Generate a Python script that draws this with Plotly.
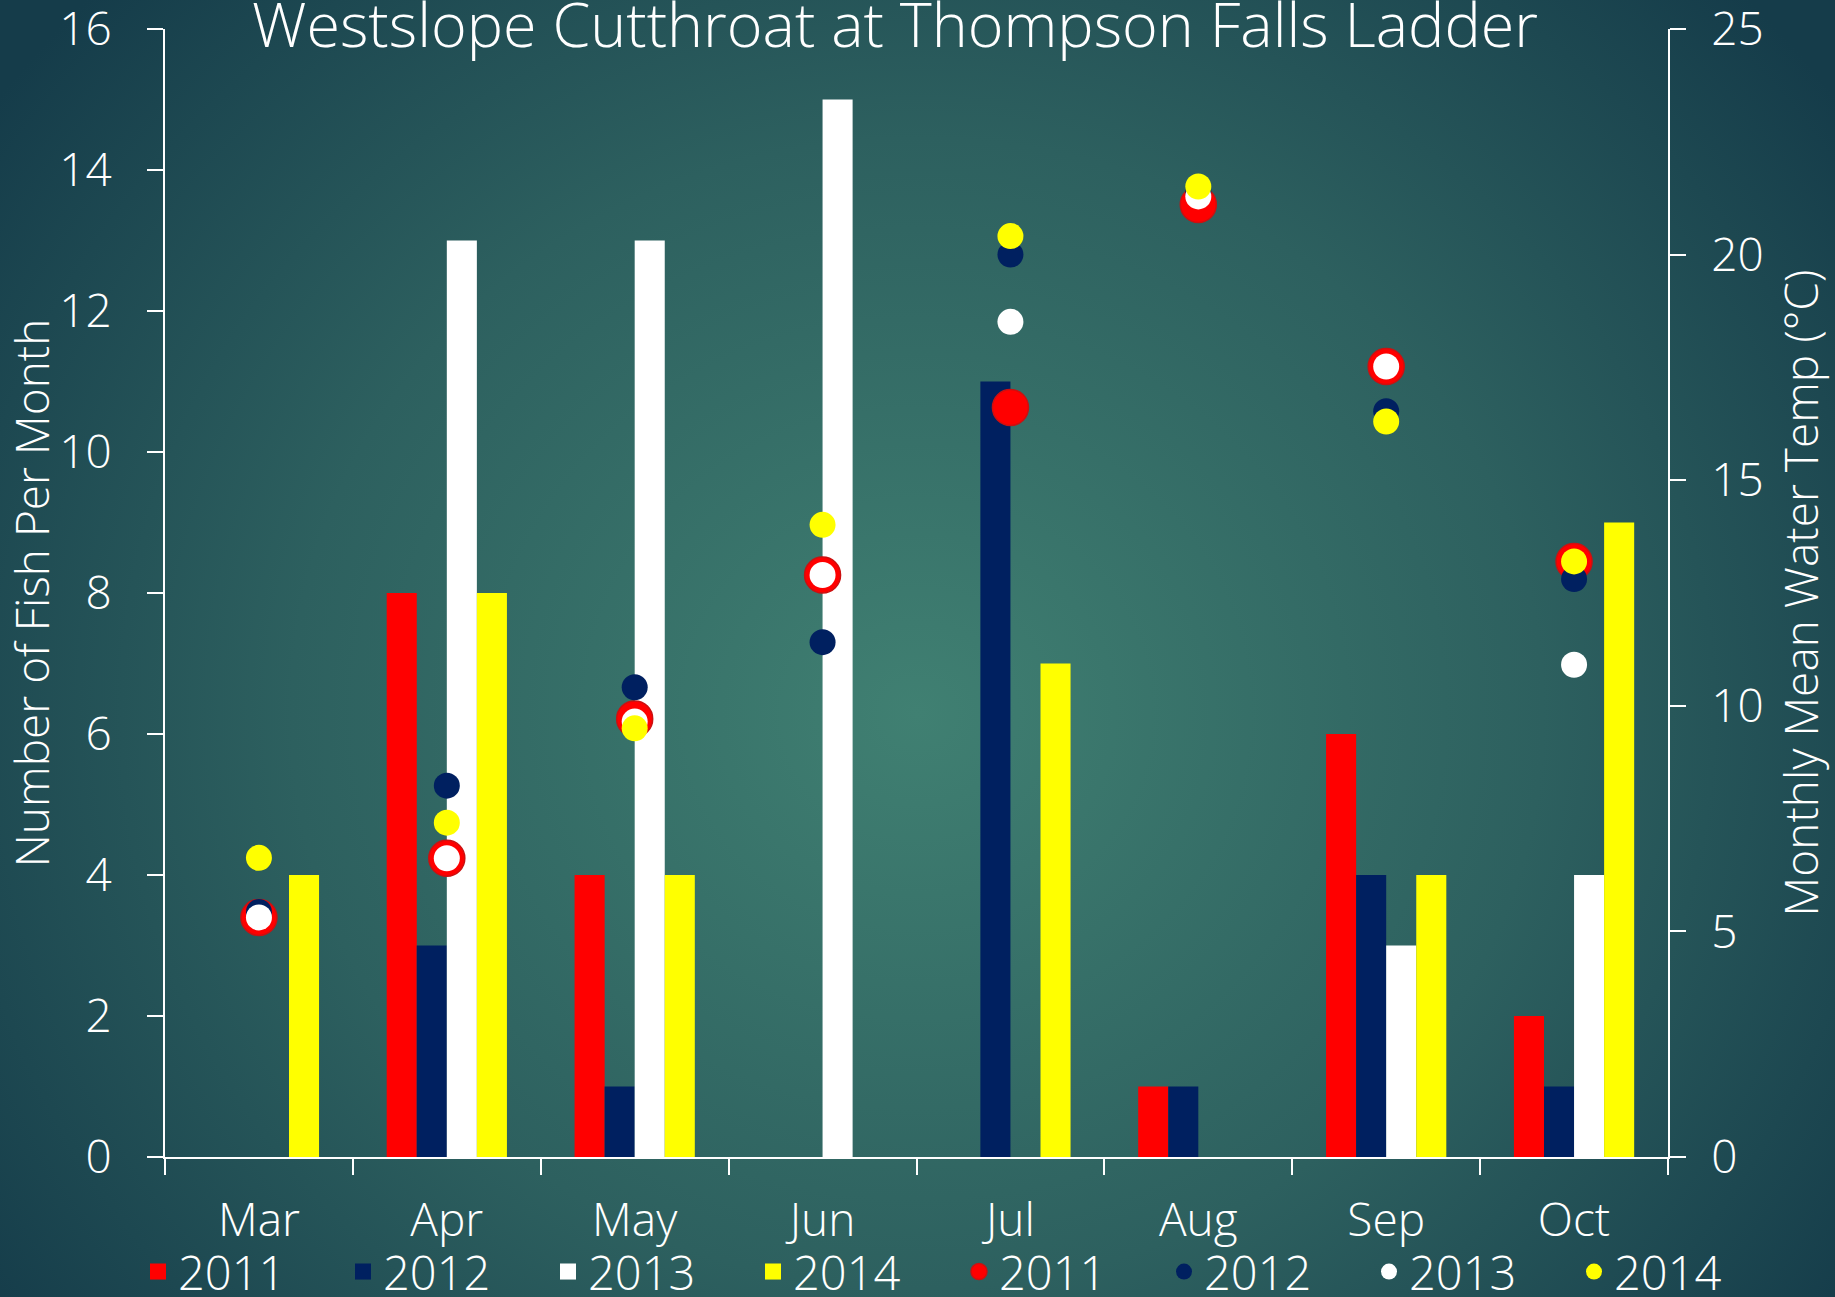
import base64
import plotly.graph_objects as go

months = ["Mar", "Apr", "May", "Jun", "Jul", "Aug", "Sep", "Oct"]
years = ["2011", "2012", "2013", "2014"]

fish_2011 = [0, 8, 4, 0, 0, 1, 6, 2]
fish_2012 = [0, 3, 1, 0, 11, 1, 4, 1]
fish_2013 = [0, 13, 13, 15, 0, 0, 3, 4]
fish_2014 = [4, 8, 4, 0, 7, 0, 4, 9]

temp_2011 = [5.31, 6.62, 9.71, 12.90, 16.61, 21.11, 17.52, 13.20]
temp_2012 = [5.43, 8.23, 10.41, 11.41, 20.00, 21.40, 16.53, 12.81]
temp_2013 = [5.31, 6.62, 9.65, 12.90, 18.51, 21.29, 17.52, 10.91]
temp_2014 = [6.63, 7.41, 9.50, 14.01, 20.41, 21.51, 16.30, 13.20]

left_ticks = [0, 2, 4, 6, 8, 10, 12, 14, 16]
right_ticks = [0, 5, 10, 15, 20, 25]

colors = ["#ff0000", "#002060", "#ffffff", "#ffff00"]
FONT = "Open Sans"
WEIGHT = 300
W, H = 1835, 1297
L, R, T, B = 165, 167, 29, 140

fig = go.Figure()

# bars (legend handled by square legend-only traces)
for yr, vals, c in zip(years, [fish_2011, fish_2012, fish_2013, fish_2014], colors):
    fig.add_trace(go.Bar(x=months, y=vals, name=yr, marker=dict(color=c, line=dict(width=0)),
                         yaxis="y", showlegend=False))

for yr, c in zip(years, colors):
    fig.add_trace(go.Scatter(x=[None], y=[None], name=yr, mode="markers",
                             marker=dict(symbol="square", color=c, size=25, line=dict(width=0)),
                             yaxis="y", legend="legend"))

for i, (yr, vals, c) in enumerate(zip(years, [temp_2011, temp_2012, temp_2013, temp_2014], colors)):
    if i == 0:
        mk = dict(color=c, size=36, line=dict(color="#cc1010", width=1.5))
    else:
        mk = dict(color=c, size=26, line=dict(width=0))
    fig.add_trace(go.Scatter(x=months, y=vals, name=yr, mode="markers", marker=mk, yaxis="y2",
                             legend="legend2"))

svg = f'''<svg xmlns="http://www.w3.org/2000/svg" width="{W}" height="{H}" viewBox="0 0 {W} {H}" preserveAspectRatio="none">
<defs><radialGradient id="g" cx="0.5" cy="0.55" r="0.62" gradientUnits="objectBoundingBox" gradientTransform="translate(0.5,0.55) scale(1,1.3) translate(-0.5,-0.55)">
<stop offset="0" stop-color="#408072"/><stop offset="0.55" stop-color="#2d605f"/><stop offset="1" stop-color="#153c4a"/></radialGradient></defs>
<rect width="{W}" height="{H}" fill="url(#g)"/></svg>'''
src = "data:image/svg+xml;base64," + base64.b64encode(svg.encode()).decode()

pw, ph = W - L - R, H - T - B
fig.add_layout_image(dict(source=src, xref="paper", yref="paper", x=-L / pw, y=1 + T / ph,
                          sizex=W / pw, sizey=H / ph, xanchor="left", yanchor="top",
                          sizing="stretch", layer="below"))

axis_font = dict(family=FONT, size=46, color="white", weight=WEIGHT)
legend_common = dict(orientation="h", xref="container", yref="container", y=(H - 1272) / H,
                     xanchor="left", yanchor="middle",
                     font=dict(family=FONT, size=47, color="white", weight=WEIGHT),
                     entrywidth=160, entrywidthmode="pixels", itemsizing="trace", traceorder="normal",
                     bgcolor="rgba(0,0,0,0)", tracegroupgap=0, itemwidth=30)
fig.update_layout(
    width=W, height=H,
    margin=dict(l=L, r=R, t=T, b=B, autoexpand=False),
    paper_bgcolor="#163f4b", plot_bgcolor="rgba(0,0,0,0)",
    barmode="group", bargap=0.36, bargroupgap=0,
    font=axis_font,
    title=dict(text="Westslope Cutthroat at Thompson Falls Ladder",
               font=dict(family=FONT, size=61, color="white", weight=WEIGHT),
               x=895 / W, xref="container", xanchor="center", y=1 - 26 / H, yref="container", yanchor="middle"),
    xaxis=dict(type="category", range=[-0.5, 7.5], showline=True, linecolor="white", linewidth=2,
               ticks="outside", tickson="boundaries", ticklen=16, tickwidth=2, tickcolor="white",
               showgrid=False, tickfont=axis_font, ticklabelstandoff=22, zeroline=False),
    yaxis=dict(range=[0, 16], tickmode="array", tickvals=left_ticks, ticktext=[str(v) for v in left_ticks],
               showline=True, linecolor="white", linewidth=2, ticks="outside",
               ticklen=16, tickwidth=2, tickcolor="white", showgrid=False, zeroline=False,
               tickfont=axis_font, ticklabelstandoff=26, ticklabeloverflow="allow",
               title=dict(text="Number of Fish Per Month", font=axis_font, standoff=26)),
    yaxis2=dict(range=[0, 25], tickmode="array", tickvals=right_ticks, ticktext=[str(v) for v in right_ticks],
                overlaying="y", side="right", showline=True, linecolor="white",
                linewidth=2, ticks="outside", ticklen=16, tickwidth=2, tickcolor="white", showgrid=False,
                zeroline=False, tickfont=axis_font, ticklabelstandoff=16, ticklabeloverflow="allow",
                title=dict(text="Monthly Mean Water Temp (°C)", font=axis_font, standoff=23)),
    legend=dict(x=138 / W, **legend_common),
    legend2=dict(x=959 / W, **legend_common),
)

fig.write_html("out.html", config={"displayModeBar": False},
               post_script="document.body.style.margin='0';document.body.style.padding='0';"
                           "document.body.style.background='#163f4b';")
